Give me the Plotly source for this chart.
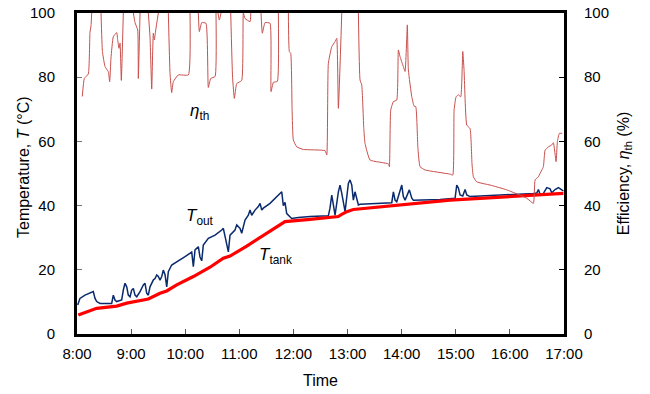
import plotly.graph_objects as go

# ---- data (time in decimal hours) ----
eta_time = [8.098, 8.135, 8.209, 8.240, 8.259, 8.272, 8.36, 8.444, 8.470, 8.518, 8.579, 8.604, 8.628, 8.671, 8.734, 8.752,
            8.776, 8.795, 8.819, 8.856, 8.95, 9.041, 9.072, 9.122, 9.133, 9.165, 9.24, 9.318, 9.349, 9.381, 9.410,
            9.429, 9.455, 9.503, 9.60, 9.688, 9.719, 9.750, 9.780, 9.872, 10.057, 10.089, 10.17, 10.242, 10.261,
            10.305, 10.384, 10.427, 10.471, 10.551, 10.569, 10.59, 10.606, 10.630, 10.662, 10.75, 10.841, 10.875, 10.908,
            10.952, 11.044, 11.074, 11.105, 11.198, 11.211, 11.30, 11.401, 11.425, 11.475, 11.567, 11.586, 11.629,
            11.702, 11.721, 11.81, 11.906, 11.924, 11.950, 11.975, 11.998, 12.061, 12.183, 12.584, 12.616, 12.645, 12.708,
            12.769, 12.800, 12.830, 12.893, 13.05, 13.200, 13.231, 13.262, 13.300, 13.323, 13.416, 13.754, 13.773, 13.798,
            13.847, 13.909, 13.939, 13.970, 14.031, 14.063, 14.105, 14.124, 14.187, 14.229, 14.261, 14.300, 14.340, 14.433,
            14.895, 14.945, 14.969, 15.006, 15.048, 15.092, 15.129, 15.153, 15.203, 15.264, 15.300, 15.325, 15.388, 15.634,
            15.943, 16.312, 16.434, 16.466, 16.527, 16.590, 16.619, 16.651, 16.712, 16.774, 16.804, 16.854, 16.878,
            16.915, 16.965]
eta_val = [74, 79.6, 81, 94, 96, 100, None, 100, 88, 83.3, 81.7, 78.6, 86, 92.6, 93.9, 91.6,
           89, 90.6, 79, 100, None, 100, 97, 94.7, 79.6, 100, None, 100, 92.6, 76.3, 93.7,
           91.6, 94.7, 100, None, 100, 81.2, 75.2, 78.6, 80.7, 80.7, 100, None, 100, 94.2,
           97, 96.8, 76.8, 79.6, 80.2, 100, None, 100, 97.8, 100, None, 100, 80, 73.4,
           78, 79, 100, 98.3, 97.3, 100, None, 100, 93.7, 97, 96.8, 75.5, 78.4,
           78.7, 100, None, 100, 88, 87.4, 70, 60.4, 58.3, 57.5, 57.1, 55.8, 84.3, 89.5,
           91.1, 92.1, 70.3, 100, None, 100, 79.1, 77.6, 64, 59.4, 54.2, 53, 52.1, 69.8,
           72.4, 72.9, 88.5, 86.4, 83.3, 81.8, 96.3, 82.2, 73.9, 71, 70.8, 58, 52.1, 51.1,
           49.8, 49.5, 69.8, 73.9, 74.5, 73.9, 88, 82.2, 65.1, 64, 53, 49, 47.4, 46.4,
           44.9, 42.3, 40.7, 48, 49, 51.1, 52.1, 57.3, 58.3, 58.9, 59.6, 53.7, 60,
           62.5, 62.5]

tout_time = [8.013, 8.055, 8.148, 8.301, 8.333, 8.364, 8.425, 8.641, 8.671, 8.702, 8.734, 8.826, 8.856, 8.887,
             8.919, 8.948, 8.980, 9.011, 9.041, 9.072, 9.104, 9.165, 9.226, 9.257, 9.288, 9.318, 9.349, 9.410,
             9.442, 9.473, 9.503, 9.534, 9.566, 9.595, 9.627, 9.658, 9.688, 9.750, 9.996, 10.120, 10.150, 10.181,
             10.242, 10.273, 10.305, 10.334, 10.427, 10.551, 10.675, 10.704, 10.736, 10.797, 10.828, 10.920,
             10.952, 11.013, 11.044, 11.105, 11.166, 11.198, 11.229, 11.290, 11.351, 11.383, 11.414, 11.444,
             11.567, 11.752, 11.784, 11.813, 11.844, 11.876, 11.968, 12.091, 12.307, 12.645, 12.675, 12.708,
             12.738, 12.769, 12.830, 12.861, 12.893, 12.954, 13.015, 13.046, 13.078, 13.107, 13.138, 13.170,
             13.200, 13.231, 13.817, 13.847, 13.878, 13.909, 14.002, 14.031, 14.063, 14.142, 14.187, 14.216,
             14.710, 14.987, 15.018, 15.048, 15.079, 15.129, 15.172, 15.203, 15.264, 16.434, 16.497, 16.527,
             16.558, 16.619, 16.682, 16.743, 16.774, 16.835, 16.897, 16.959, 16.989]
tout_val = [9, 11.1, 12.1, 13.2, 11.1, 10.1, 9.5, 9.5, 12.1, 10.6, 10.1, 10.6, 13.7, 15.8,
            14.7, 12.1, 11.6, 13.7, 14.2, 12.1, 11.6, 13.2, 15.3, 15.8, 12.7, 12.1, 14.7, 16.8,
            17.3, 18.4, 17.9, 16.8, 17.9, 19.9, 18.5, 14.7, 19.4, 21.5, 24.1, 25.5, 21, 26.2,
            27.2, 24, 22.8, 27.7, 29.8, 30.8, 32.4, 32.9, 30.4, 25.6, 30.8, 32.4,
            34, 32.9, 31.4, 35.5, 37, 38.6, 37, 38.6, 39.7, 40.7, 38.6, 39.2,
            40.7, 43.8, 44.3, 40, 41, 37.5, 36, 36.3, 36.6, 36.8, 39.2, 43.3,
            40.2, 37, 44.3, 46.4, 43.8, 38.1, 46.9, 48, 46.4, 41.7, 44.3, 41.7,
            40.2, 40.4, 40.9, 44.3, 41.7, 41.2, 46.4, 42.8, 41.7, 44.9, 42.3, 41.7,
            41.9, 42.3, 46.4, 45.5, 43.3, 43, 45, 43.3, 42.8, 43.8, 43.9, 45,
            43.5, 43.8, 45.6, 45.2, 44, 45, 45.6, 44.9, 44.6]

tank_time = [8.024, 8.179, 8.364, 8.734, 8.919, 9.318, 9.534, 9.658, 9.843, 10.150, 10.458, 10.704, 10.828,
             11.137, 11.383, 11.506, 11.844, 12.307, 12.645, 12.830, 12.893, 12.985, 13.107, 14.031, 14.895,
             16.989]
tank_val = [5.9, 6.9, 8, 8.7, 9.6, 10.9, 12.7, 13.4, 15.3, 17.9, 20.8, 23.6, 24.3,
            27.4, 30.1, 31.4, 35, 35.7, 36.2, 36.6, 37.3, 38.1, 38.8, 40.2, 41.7,
            43.8]

x_ticks = [8, 9, 10, 11, 12, 13, 14, 15, 16, 17]
x_labels = ["8:00", "9:00", "10:00", "11:00", "12:00", "13:00", "14:00", "15:00", "16:00", "17:00"]
y_ticks = [0, 20, 40, 60, 80, 100]

FONT = "Liberation Sans, Arial, sans-serif"

fig = go.Figure()
fig.add_trace(go.Scatter(x=eta_time, y=eta_val, mode="lines", yaxis="y2", connectgaps=False,
                         line=dict(color="#C8504D", width=1, shape="spline", smoothing=0.4), showlegend=False))
fig.add_trace(go.Scatter(x=tout_time, y=tout_val, mode="lines",
                         line=dict(color="#0A2A6E", width=1.5), showlegend=False))
fig.add_trace(go.Scatter(x=tank_time, y=tank_val, mode="lines",
                         line=dict(color="#FF0000", width=3.2), showlegend=False))

fig.add_annotation(x=10.27, y=69.2, xref="x", yref="y", showarrow=False,
                   text="<i>η</i><sub>th</sub>", font=dict(family=FONT, size=17, color="black"))
fig.add_annotation(x=10.27, y=36.4, xref="x", yref="y", showarrow=False,
                   text="<i>T</i><sub>out</sub>", font=dict(family=FONT, size=17, color="black"))
fig.add_annotation(x=11.66, y=24.3, xref="x", yref="y", showarrow=False,
                   text="<i>T</i><sub>tank</sub>", font=dict(family=FONT, size=17, color="black"))
# left axis title as a rotated annotation
fig.add_annotation(x=-0.111, y=0.52, xref="paper", yref="paper", showarrow=False, textangle=-90,
                   xanchor="center", yanchor="middle",
                   text="Temperature, <i>T</i> (°C)", font=dict(family=FONT, size=16, color="black"))

fig.update_layout(
    width=650, height=394,
    margin=dict(l=77, r=86, t=13, b=60),
    paper_bgcolor="white", plot_bgcolor="white",
    font=dict(family=FONT, size=15, color="black"),
    xaxis=dict(range=[8, 17], tickvals=x_ticks, ticktext=x_labels, showgrid=False, zeroline=False,
               showline=True, linecolor="black", linewidth=3, mirror=True, automargin=False,
               ticks="inside", ticklen=5, tickcolor="#555", tickwidth=1, ticklabelstandoff=4,
               ticklabeloverflow="allow",
               title=dict(text="Time", font=dict(size=16), standoff=14)),
    yaxis=dict(range=[0, 100], tickvals=y_ticks, showgrid=False, zeroline=False, automargin=False,
               showline=True, linecolor="black", linewidth=3, ticklabeloverflow="allow",
               ticks="inside", ticklen=5, tickcolor="#777", tickwidth=1, ticklabelstandoff=16),
    yaxis2=dict(range=[0, 100], tickvals=y_ticks, overlaying="y", side="right", showgrid=False,
                automargin=False, ticklabeloverflow="allow",
                zeroline=False, showline=True, linecolor="black", linewidth=3,
                ticks="inside", ticklen=5, tickcolor="black", tickwidth=1, ticklabelstandoff=14,
                title=dict(text="Efficiency, <i>η</i><sub>th</sub> (%)", font=dict(size=16), standoff=10)),
)

fig.write_html("out.html", config={"displayModeBar": False},
               post_script="document.body.style.margin='0';")
